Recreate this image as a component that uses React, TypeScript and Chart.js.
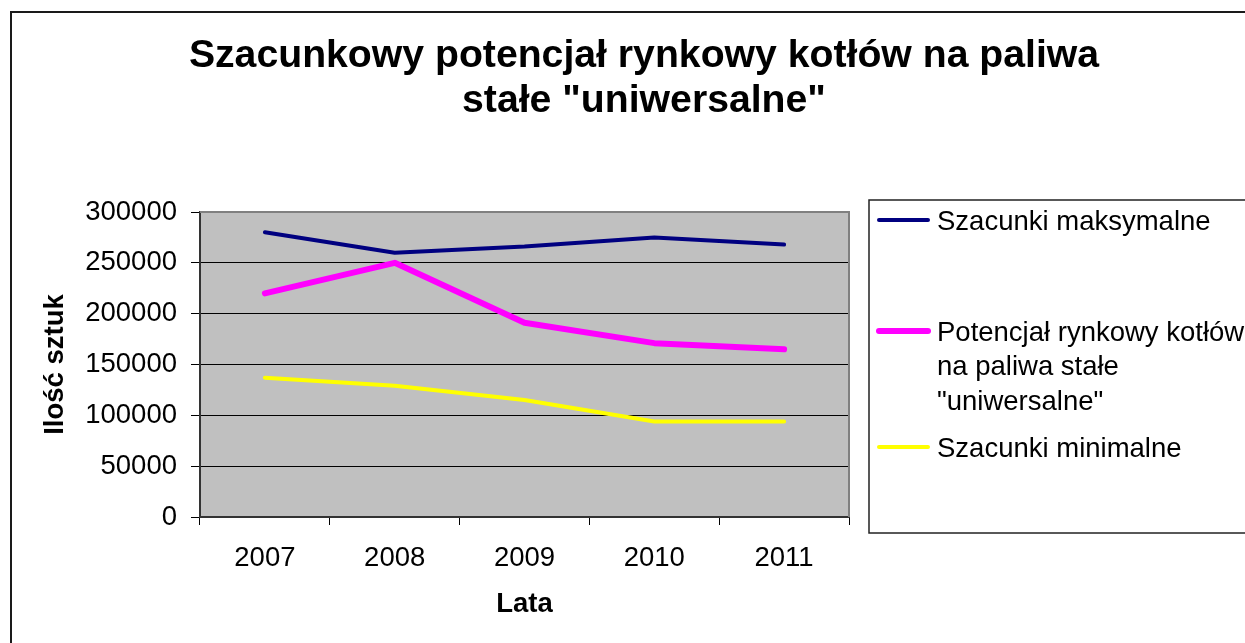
import React, { useEffect, useRef } from 'react';
import { Chart, registerables } from 'chart.js';

Chart.register(...registerables);

const years = ['2007', '2008', '2009', '2010', '2011'];
const maxEstimates = [280000, 260000, 266000, 275000, 268000];
const marketPotential = [220000, 250000, 191000, 171000, 165000];
const minEstimates = [137000, 129000, 115000, 94000, 94000];
const yTickValues = [0, 50000, 100000, 150000, 200000, 250000, 300000];

const titleLines = ['Szacunkowy potencjał rynkowy kotłów na paliwa', 'stałe "uniwersalne"'];
const yAxisTitle = 'Ilość sztuk';
const xAxisTitle = 'Lata';
const legendLabels = [
  ['Szacunki maksymalne'],
  ['Potencjał rynkowy kotłów', 'na paliwa stałe', '"uniwersalne"'],
  ['Szacunki minimalne'],
];

const FONT = '"Liberation Sans", Arial, Helvetica, sans-serif';
const W = 1245;
const H = 643;
const FS = 27.5;

const decorPlugin = {
  id: 'decor',
  beforeDraw(chart: any) {
    const { ctx, chartArea } = chart;
    ctx.save();
    ctx.fillStyle = '#ffffff';
    ctx.fillRect(0, 0, W, H);
    ctx.strokeStyle = '#1a1a1a';
    ctx.lineWidth = 2;
    ctx.strokeRect(11, 12, W + 20, H + 20);
    ctx.fillStyle = '#C0C0C0';
    ctx.fillRect(chartArea.left, chartArea.top, chartArea.right - chartArea.left, chartArea.bottom - chartArea.top);
    ctx.restore();
  },
  beforeDatasetsDraw(chart: any) {
    const { ctx, chartArea } = chart;
    ctx.save();
    ctx.strokeStyle = '#808080';
    ctx.lineWidth = 2;
    ctx.beginPath();
    ctx.moveTo(chartArea.left, chartArea.top);
    ctx.lineTo(chartArea.right, chartArea.top);
    ctx.lineTo(chartArea.right, chartArea.bottom);
    ctx.stroke();
    ctx.restore();
  },
  afterDraw(chart: any) {
    const { ctx } = chart;
    ctx.save();
    ctx.fillStyle = '#000';
    ctx.textAlign = 'center';
    ctx.textBaseline = 'alphabetic';
    ctx.font = `bold 39.2px ${FONT}`;
    ctx.fillText(titleLines[0], 644, 67);
    ctx.fillText(titleLines[1], 644, 112);

    const boxL = 869, boxT = 200, boxB = 533;
    ctx.strokeStyle = '#222';
    ctx.lineWidth = 1.5;
    ctx.strokeRect(boxL, boxT, W + 20 - boxL, boxB - boxT);
    const rowY = [220, 331, 447];
    ctx.textAlign = 'left';
    ctx.font = `${FS}px ${FONT}`;
    chart.data.datasets.forEach((ds: any, i: number) => {
      const y = rowY[i];
      ctx.strokeStyle = ds.borderColor;
      ctx.lineWidth = ds.borderWidth;
      ctx.lineCap = 'round';
      ctx.beginPath();
      ctx.moveTo(879, y);
      ctx.lineTo(928, y);
      ctx.stroke();
      ctx.fillStyle = '#000';
      (ds.legendLines as string[]).forEach((line, j) => {
        ctx.fillText(line, 937, y + 9.5 + j * 34.7);
      });
    });
    ctx.restore();
  },
};

export default function App() {
  const canvasRef = useRef<HTMLCanvasElement | null>(null);

  useEffect(() => {
    if (!canvasRef.current) return;
    const mk = (i: number, data: number[], color: string, width: number) => ({
      label: legendLabels[i].join(' '),
      legendLines: legendLabels[i],
      data,
      borderColor: color,
      borderWidth: width,
      pointRadius: 0,
      borderCapStyle: 'round',
      borderJoinStyle: 'round',
      tension: 0,
      fill: false,
    });
    const chart = new Chart(canvasRef.current, {
      type: 'line',
      data: {
        labels: years,
        datasets: [
          mk(0, maxEstimates, '#000080', 4),
          mk(1, marketPotential, '#FF00FF', 6),
          mk(2, minEstimates, '#FFFF00', 4),
        ] as any,
      },
      options: {
        responsive: false,
        animation: false,
        events: [],
        layout: { padding: { left: 35, right: W - 849, top: 212, bottom: 18 } },
        plugins: {
          legend: { display: false },
          title: { display: false },
          tooltip: { enabled: false },
        },
        scales: {
          x: {
            type: 'category',
            offset: true,
            grid: {
              display: true,
              drawOnChartArea: false,
              drawTicks: true,
              tickLength: 8,
              offset: true,
              color: '#000',
              lineWidth: 1,
            },
            border: { display: true, color: '#333', width: 2 },
            ticks: {
              color: '#000',
              font: { family: FONT, size: FS },
              padding: 17,
              maxRotation: 0,
            },
            title: {
              display: true,
              text: xAxisTitle,
              color: '#000',
              font: { family: FONT, size: FS, weight: 'bold' },
              padding: { top: 4, bottom: 4 },
            },
            afterFit(scale: any) {
              scale.height = H - 517 - 18;
            },
          },
          y: {
            min: 0,
            max: 300000,
            afterBuildTicks(scale: any) {
              scale.ticks = yTickValues.map((v) => ({ value: v }));
            },
            grid: {
              display: true,
              drawOnChartArea: true,
              drawTicks: true,
              tickLength: 9,
              color: '#000',
              lineWidth: 1,
            },
            border: { display: true, color: '#333', width: 2 },
            ticks: {
              color: '#000',
              font: { family: FONT, size: FS },
              padding: 14,
              callback: (v: any) => String(v),
            },
            title: {
              display: true,
              text: yAxisTitle,
              color: '#000',
              font: { family: FONT, size: FS, weight: 'bold' },
              padding: { top: 4, bottom: 4 },
            },
            afterFit(scale: any) {
              scale.width = 200 - 35;
            },
          },
        },
      } as any,
      plugins: [decorPlugin],
    });
    return () => chart.destroy();
  }, []);

  return (
    <div style={{ position: 'absolute', left: 0, top: 0, width: W, height: H }}>
      <canvas ref={canvasRef} width={W} height={H} style={{ display: 'block' }} />
    </div>
  );
}
